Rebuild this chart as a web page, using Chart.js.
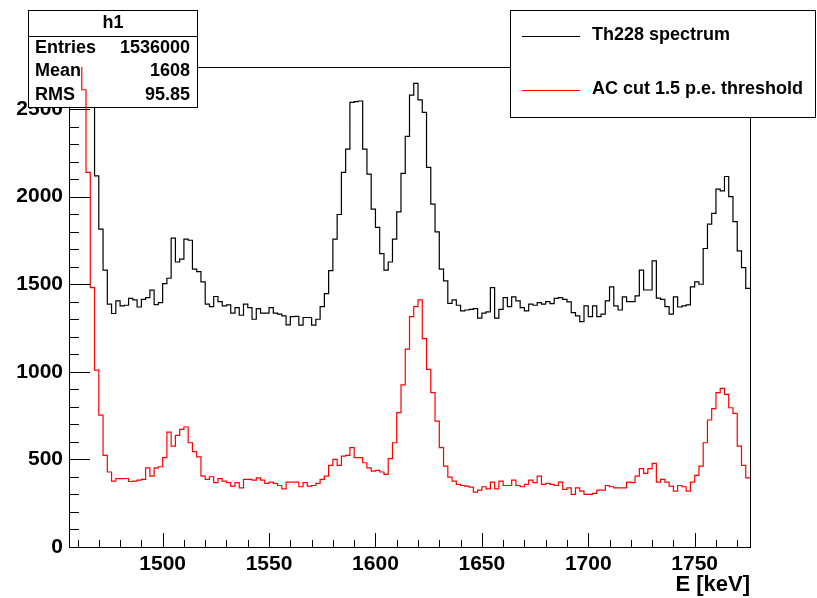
<!DOCTYPE html>
<html>
<head>
<meta charset="utf-8">
<script src="https://cdn.jsdelivr.net/npm/chart.js@4"></script>
<style>
html,body{margin:0;padding:0;background:#fff;}
canvas{display:block;}
</style>
</head>
<body>
<canvas id="chart" width="817" height="598"></canvas>
<script>
// --- histogram data (2 keV bins starting at xMin) ---
const xMin = 1456, xMax = 1776, binWidth = 2;
const xTicks = [1500, 1550, 1600, 1650, 1700, 1750];
const yTicks = [0, 500, 1000, 1500, 2000, 2500];
const yMax = 2740;

const thSpectrum = [
3400,3300,3150,3000,2850,2700,2119,1814,1580,1386,
1333,1405,1376,1380,1419,1411,1370,1414,1424,1466,
1384,1395,1504,1534,1763,1627,1643,1757,1751,1586,
1572,1513,1386,1372,1430,1401,1376,1382,1335,1367,
1323,1386,1367,1300,1361,1335,1335,1367,1335,1329,
1319,1268,1315,1317,1266,1310,1310,1266,1300,1372,
1446,1578,1757,1898,2138,2271,2538,2542,2546,2271,
2129,1929,1824,1675,1580,1627,1757,1913,2133,2344,
2580,2646,2552,2481,2167,1957,1799,1586,1519,1391,
1411,1380,1348,1353,1357,1361,1306,1335,1342,1481,
1306,1357,1424,1372,1428,1405,1367,1348,1386,1380,
1395,1386,1401,1389,1419,1424,1414,1399,1338,1319,
1287,1376,1315,1376,1315,1329,1405,1485,1376,1353,
1428,1401,1401,1433,1580,1467,1467,1633,1421,1414,
1372,1329,1428,1370,1376,1382,1485,1513,1500,1704,
1843,1905,2043,2033,2115,2000,1857,1690,1595,1476
];

const acCut = [
3300,3100,2900,2610,2138,1481,1010,753,523,428,
376,390,390,391,374,376,382,386,452,405,
452,458,510,656,576,637,671,685,595,544,
515,405,386,401,367,390,376,367,348,367,
338,386,386,382,395,382,363,370,363,351,
332,370,370,370,344,367,348,351,363,386,
405,466,500,466,519,523,567,510,510,481,
452,433,437,428,414,504,595,767,925,1129,
1315,1372,1411,1190,1014,881,719,567,462,399,
376,357,351,348,342,313,325,344,332,370,
332,376,351,351,382,351,344,357,382,367,
405,357,363,357,351,370,329,338,300,338,
319,300,300,306,325,325,351,344,338,338,
338,370,367,405,447,420,447,477,370,386,
370,348,319,351,344,319,370,409,462,595,
725,790,881,905,871,795,763,576,466,395
];

const statsRows = [['Entries', '1536000'], ['Mean', '1608'], ['RMS', '95.85']];
const legendItems = [['Th228 spectrum', '#000000'], ['AC cut 1.5 p.e. threshold', '#ff0000']];

const FONT = "'Liberation Sans', Arial, sans-serif";

function toSteps(vals){
  const pts = vals.map((v,i)=>({x: xMin + i*binWidth, y: v}));
  pts.push({x: xMin + vals.length*binWidth, y: vals[vals.length-1]});
  return pts;
}

// frame + inward ticks like ROOT
const rootFrame = {
  id: 'rootFrame',
  beforeDatasetsDraw(chart){
    const {ctx, chartArea: a, scales: {x, y}} = chart;
    ctx.save();
    ctx.strokeStyle = '#000'; ctx.lineWidth = 1;
    ctx.beginPath();
    ctx.moveTo(a.left, 67.5); ctx.lineTo(750.5, 67.5); ctx.lineTo(750.5, a.bottom);
    ctx.stroke();
    ctx.beginPath();
    for (let v = 1460; v <= 1770; v += 10){
      const px = Math.round(x.getPixelForValue(v)) + 0.5;
      const len = (v % 50 === 0) ? 14 : 7;
      ctx.moveTo(px, a.bottom); ctx.lineTo(px, a.bottom - len);
    }
    for (let v = 0; v <= 2700; v += 100){
      const py = Math.round(y.getPixelForValue(v)) + 0.5;
      const len = (v % 500 === 0) ? 21 : 10;
      ctx.moveTo(a.left, py); ctx.lineTo(a.left + len, py);
    }
    ctx.stroke();
    ctx.restore();
  },
  afterDatasetDraw(chart, args){
    if (args.index !== 0) return;
    // stats box sits over the black histogram, red is drawn after it
    const ctx = chart.ctx;
    ctx.save();
    ctx.fillStyle = '#fff'; ctx.strokeStyle = '#000'; ctx.lineWidth = 1;
    ctx.fillRect(28, 10, 169, 97);
    ctx.strokeRect(28.5, 10.5, 169, 97);
    ctx.beginPath(); ctx.moveTo(28, 36.5); ctx.lineTo(197, 36.5); ctx.stroke();
    ctx.fillStyle = '#000';
    ctx.font = 'bold 18px ' + FONT;
    ctx.textBaseline = 'middle';
    ctx.textAlign = 'center';
    ctx.fillText('h1', 113, 23);
    statsRows.forEach((r,i)=>{
      const ty = 48 + i*23.5;
      ctx.textAlign = 'left'; ctx.fillText(r[0], 35, ty);
      ctx.textAlign = 'right'; ctx.fillText(r[1], 190, ty);
    });
    ctx.restore();
  },
  afterDraw(chart){
    const ctx = chart.ctx;
    ctx.save();
    ctx.fillStyle = '#fff'; ctx.strokeStyle = '#000'; ctx.lineWidth = 1;
    ctx.fillRect(510, 10, 306, 107);
    ctx.strokeRect(510.5, 10.5, 305, 107);
    ctx.font = 'bold 18px ' + FONT;
    ctx.textBaseline = 'middle'; ctx.textAlign = 'left';
    legendItems.forEach((it,i)=>{
      const ly = 36.5 + i*54;
      ctx.strokeStyle = it[1];
      ctx.beginPath(); ctx.moveTo(522, ly); ctx.lineTo(580, ly); ctx.stroke();
      ctx.fillStyle = '#000';
      ctx.fillText(it[0], 592, ly - 1);
    });
    ctx.restore();
  }
};

const ctx = document.getElementById('chart');
const chart = new Chart(ctx, {
  type: 'line',
  data: {
    datasets: [
      { label: legendItems[0][0], data: toSteps(thSpectrum), borderColor: '#000', borderWidth: 1.2, stepped: true, pointRadius: 0, fill: false, order: 1 },
      { label: legendItems[1][0], data: toSteps(acCut), borderColor: '#ff0000', borderWidth: 1.2, stepped: true, pointRadius: 0, fill: false, order: 0 }
    ]
  },
  options: {
    responsive: false,
    animation: false,
    layout: { padding: { top: 67, right: 67, left: 0, bottom: 0 } },
    plugins: { legend: { display: false }, tooltip: { enabled: false } },
    scales: {
      x: {
        type: 'linear', min: xMin, max: xMax,
        afterBuildTicks: s => { s.ticks = xTicks.map(v=>({value: v})); },
        afterFit: s => { s.height = 51; },
        grid: { display: false, drawTicks: false },
        border: { display: true, color: '#000', width: 1 },
        ticks: { color: '#000', font: { family: FONT, size: 21, weight: 'bold' }, padding: 5, maxRotation: 0, callback: v => String(v) },
        title: { display: true, text: 'E [keV]', align: 'end', color: '#000', font: { family: FONT, size: 22, weight: 'bold' }, padding: { top: 0, bottom: 0 } }
      },
      y: {
        min: 0, max: yMax,
        afterBuildTicks: s => { s.ticks = yTicks.map(v=>({value: v})); },
        afterFit: s => { s.width = 69; },
        grid: { display: false, drawTicks: false },
        border: { display: true, color: '#000', width: 1 },
        ticks: { color: '#000', font: { family: FONT, size: 21, weight: 'bold' }, padding: 6, callback: v => String(v) }
      }
    }
  },
  plugins: [rootFrame]
});
</script>
</body>
</html>
